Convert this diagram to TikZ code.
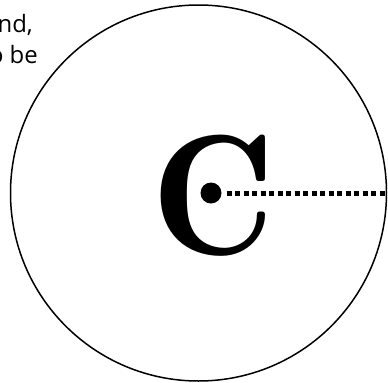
\documentclass[tikz,border=0pt]{standalone}
\usepackage{fontspec}
\setsansfont{Open Sans}
\newfontfamily\letterfont{lmromandemi10-regular.otf}
\usetikzlibrary{positioning}
\tikzset{
  rimline/.style={line width=1.5bp},
  radiusline/.style={line width=5bp, line cap=butt, dash pattern=on 5bp off 3.5bp},
  textline/.style={inner sep=0pt, font=\sffamily\fontsize{24}{31}\selectfont},
}
\begin{document}
\begin{tikzpicture}[line cap=round,line join=round,x=1bp,y=-1bp]
	\clip (0,0) rectangle (388,383);
	% texte coupe a gauche
	\node[textline, anchor=base east] (lineone) at (33,32) {nd,};
	\node[textline, anchor=base east] (linetwo) at (38,63) {o be};
	% le disque
	\coordinate (centre) at (198.5,193);
	\draw[rimline] (centre) circle (188);
	% la lettre et le point
	\node[inner sep=0pt, anchor=base west, font=\letterfont\fontsize{172}{172}\selectfont] (letter) at (151,254) {C};
	\node[circle, fill, inner sep=0pt, minimum size=21bp] (dot) at (211,193) {};
	\coordinate (edge) at (388,193);
	\draw[radiusline, shorten <=5bp] (dot) -- (edge);
\end{tikzpicture}
\end{document}
